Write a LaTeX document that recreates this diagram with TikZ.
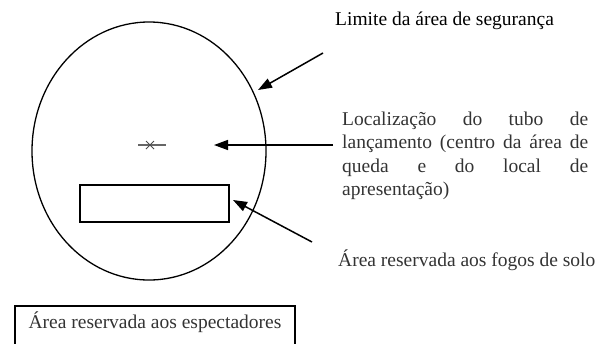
\documentclass[tikz,border=0pt]{standalone}
\usepackage{fontspec}
\setmainfont{Liberation Serif}
\usetikzlibrary{arrows.meta,shapes.geometric}
\tikzset{
  lbl/.style={inner sep=0pt, font=\fontsize{19.5bp}{23.5bp}\selectfont, text=black!80},
  pointer/.style={line width=1.5bp, -{Triangle[length=14bp,width=10bp]}},
  outline/.style={draw, line width=1.3bp}
}
\begin{document}
\begin{tikzpicture}[x=1bp,y=-1bp]
\useasboundingbox (0,0) rectangle (596,343);
% safety zone boundary
\node[outline, ellipse, minimum width=234bp, minimum height=258bp, inner sep=0pt] (zone) at (149,151) {};
% launch tube marker
\draw[line width=1.2bp, black!60] (138,145) -- (166,145);
\draw[line width=1bp, black!70] (146,141) -- (154,149) (146,149) -- (154,141);
\coordinate (tube) at (150,145);
% ground fireworks area
\node[outline, minimum width=149bp, minimum height=37bp, inner sep=0pt] (ground) at (154.5,203.5) {};
% spectators area
\begin{scope}
\clip (0,0) rectangle (596,343);
\draw[outline, line width=1.5bp] (15,350) |- (295,306) -- (295,350);
\end{scope}
\node[lbl, anchor=base] (spect) at (155,328) {Área reservada aos espectadores};
% labels
\node[lbl, anchor=base west, text=black] (title) at (335,25) {Limite da área de segurança};
\node[lbl, anchor=base west] (loc) at (342,125) {\parbox[t]{246bp}{\fontsize{19.5bp}{23.5bp}\selectfont\hyphenpenalty=10000 Localização do tubo de\linebreak lançamento (centro da área de\linebreak queda e do local de\linebreak apresentação)}};
\node[lbl, anchor=base west] (fogos) at (338,266) {Área reservada aos fogos de solo};
% connectors
\coordinate (t1) at (323,53);
\coordinate (h1) at (258,90);
\coordinate (t2) at (333,145);
\coordinate (h2) at (214,145);
\coordinate (t3) at (312,242);
\coordinate (h3) at (233,200);
\draw[pointer] (t1) -- (h1);
\draw[pointer] (t2) -- (h2);
\draw[pointer] (t3) -- (h3);
\end{tikzpicture}
\end{document}
